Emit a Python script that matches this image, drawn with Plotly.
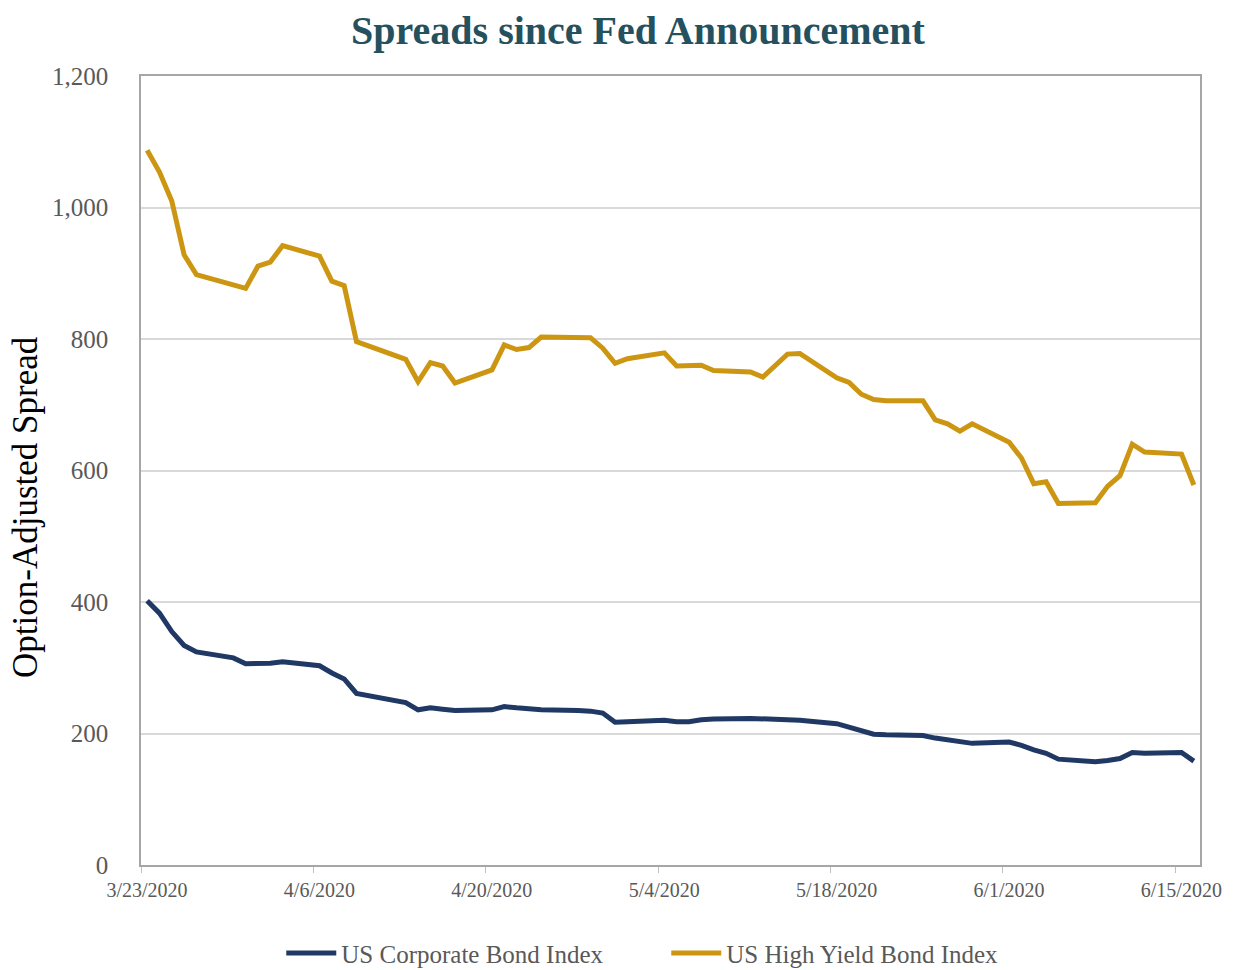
import plotly.graph_objects as go

dates = [
    "2020-03-23", "2020-03-24", "2020-03-25", "2020-03-26", "2020-03-27",
    "2020-03-30", "2020-03-31", "2020-04-01", "2020-04-02", "2020-04-03",
    "2020-04-06", "2020-04-07", "2020-04-08", "2020-04-09",
    "2020-04-13", "2020-04-14", "2020-04-15", "2020-04-16", "2020-04-17",
    "2020-04-20", "2020-04-21", "2020-04-22", "2020-04-23", "2020-04-24",
    "2020-04-27", "2020-04-28", "2020-04-29", "2020-04-30", "2020-05-01",
    "2020-05-04", "2020-05-05", "2020-05-06", "2020-05-07", "2020-05-08",
    "2020-05-11", "2020-05-12", "2020-05-13", "2020-05-14", "2020-05-15",
    "2020-05-18", "2020-05-19", "2020-05-20", "2020-05-21", "2020-05-22",
    "2020-05-25", "2020-05-26", "2020-05-27", "2020-05-28", "2020-05-29",
    "2020-06-01", "2020-06-02", "2020-06-03", "2020-06-04", "2020-06-05",
    "2020-06-08", "2020-06-09", "2020-06-10", "2020-06-11", "2020-06-12",
    "2020-06-15", "2020-06-16",
]

us_corporate = [
    402, 383, 355, 334, 324,
    315, 306, 306, 307, 309,
    303, 292, 283, 261,
    247, 236, 239, 237, 235,
    236, 241, 239, 237, 236,
    235, 234, 231, 217, 218,
    220, 218, 218, 221, 222,
    223, 222, 221, 221, 220,
    215, 209, 203, 199, 198,
    197, 193, 190, 187, 185,
    187, 182, 175, 170, 161,
    157, 159, 162, 171, 170,
    171, 158,
]

us_high_yield = [
    1087, 1054, 1010, 928, 898,
    881, 877, 911, 917, 942,
    926, 888, 881, 796,
    769, 735, 764, 759, 733,
    753, 791, 784, 787, 803,
    802, 802, 786, 763, 770,
    779, 759, 760, 760, 752,
    750, 742, 759, 777, 778,
    741, 734, 716, 708, 706,
    706, 677, 671, 660, 671,
    643, 619, 580, 583, 550,
    551, 576, 592, 640, 628,
    625, 578,
]

tick_positions = ["2020-03-22 12:00", "2020-04-05 12:00", "2020-04-19 12:00",
                  "2020-05-03 12:00", "2020-05-17 12:00", "2020-05-31 12:00",
                  "2020-06-14 12:00"]
tick_labels = ["3/23/2020", "4/6/2020", "4/20/2020", "5/4/2020",
               "5/18/2020", "6/1/2020", "6/15/2020"]

FONT = "Liberation Serif"
GRAY = "#595959"

fig = go.Figure()
fig.add_trace(go.Scatter(
    x=dates, y=us_corporate, mode="lines", name="US Corporate Bond Index",
    line=dict(color="#1F3864", width=5),
))
fig.add_trace(go.Scatter(
    x=dates, y=us_high_yield, mode="lines", name="US High Yield Bond Index",
    line=dict(color="#CC9612", width=5),
))

fig.update_layout(
    width=1234, height=970,
    margin=dict(l=141, r=34, t=76, b=105, autoexpand=False),
    paper_bgcolor="white", plot_bgcolor="white",
    font=dict(family=FONT, color=GRAY),
    title=dict(
        text="<b>Spreads since Fed Announcement</b>",
        x=0.517, xanchor="center", y=0.969, yanchor="middle",
        font=dict(family=FONT, size=40, color="#25505E"),
    ),
    legend=dict(
        orientation="h", x=0.496, xanchor="center", y=-0.112, yanchor="middle",
        font=dict(family=FONT, size=25, color=GRAY),
        entrywidth=320, entrywidthmode="pixels",
        itemwidth=50, tracegroupgap=0,
    ),
    showlegend=True,
    annotations=[dict(
        text="Option-Adjusted Spread", textangle=-90,
        xref="paper", yref="paper",
        x=(25 - 141) / 1059, y=(865 - 507) / 789,
        xanchor="center", yanchor="middle", showarrow=False,
        font=dict(family=FONT, size=35, color="black"),
    )],
)

fig.update_xaxes(
    type="date",
    range=["2020-03-22 12:00", "2020-06-16 12:00"],
    tickmode="array", tickvals=tick_positions, ticktext=tick_labels,
    ticklabelshift=6,
    ticks="outside", ticklen=6, tickcolor="#BFBFBF",
    tickfont=dict(family=FONT, size=20, color=GRAY),
    showgrid=False, showline=True, linecolor="#A6A6A6", linewidth=1.5,
    mirror=True, zeroline=False,
)
fig.update_yaxes(
    range=[0, 1200], dtick=200, tickformat=",",
    tickfont=dict(family=FONT, size=25, color=GRAY),
    ticklabelstandoff=26,
    showgrid=True, gridcolor="#D9D9D9", gridwidth=1.5,
    showline=True, linecolor="#A6A6A6", linewidth=1.5, mirror=True,
    zeroline=False, ticks="",
)

fig.write_html("out.html")
